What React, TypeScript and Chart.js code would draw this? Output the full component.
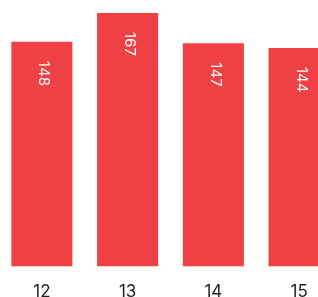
import React, { useEffect, useRef } from "react";
import { Chart, registerables } from "chart.js";

Chart.register(...registerables);

const categories = ["12", "13", "14", "15"];
const values = [148, 167, 147, 144];

const barColor = "#ef4044";

const inBarLabels = {
  id: "inBarLabels",
  afterDatasetsDraw(chart: any) {
    const ctx = chart.ctx;
    const meta = chart.getDatasetMeta(0);
    ctx.save();
    ctx.fillStyle = "#ffffff";
    ctx.font = "15px Inter";
    ctx.textAlign = "left";
    ctx.textBaseline = "alphabetic";
    meta.data.forEach((el: any, i: number) => {
      ctx.save();
      ctx.translate(el.x, el.y + 19);
      ctx.rotate(Math.PI / 2);
      ctx.fillText(String(values[i]), 0, 2.5);
      ctx.restore();
    });
    ctx.restore();
  },
};

export default function App() {
  const ref = useRef<HTMLCanvasElement | null>(null);
  useEffect(() => {
    if (!ref.current) return;
    const chart = new Chart(ref.current, {
      type: "bar",
      data: {
        labels: categories,
        datasets: [
          {
            data: values,
            backgroundColor: barColor,
            borderWidth: 0,
            categoryPercentage: 1,
            barPercentage: 0.712,
          },
        ],
      },
      options: {
        animation: false,
        responsive: true,
        maintainAspectRatio: false,
        layout: { padding: { top: 13, left: 0, right: 0, bottom: 0 } },
        plugins: { legend: { display: false }, tooltip: { enabled: false } },
        scales: {
          x: {
            grid: { display: false, drawTicks: false },
            border: { display: false },
            ticks: {
              color: "#1f1f1f",
              font: { family: "Inter", size: 17 },
              padding: 15,
            },
          },
          y: {
            display: false,
            min: 0,
            max: Math.max(...values),
          },
        },
      },
      plugins: [inBarLabels],
    });
    return () => chart.destroy();
  }, []);
  return (
    <div
      style={{
        position: "fixed",
        left: 0,
        top: 0,
        width: 318,
        height: 297,
        overflow: "hidden",
        background: "#fff",
      }}
    >
      <div style={{ position: "absolute", left: -1, top: 0, width: 343, height: 317 }}>
        <canvas ref={ref} />
      </div>
    </div>
  );
}
